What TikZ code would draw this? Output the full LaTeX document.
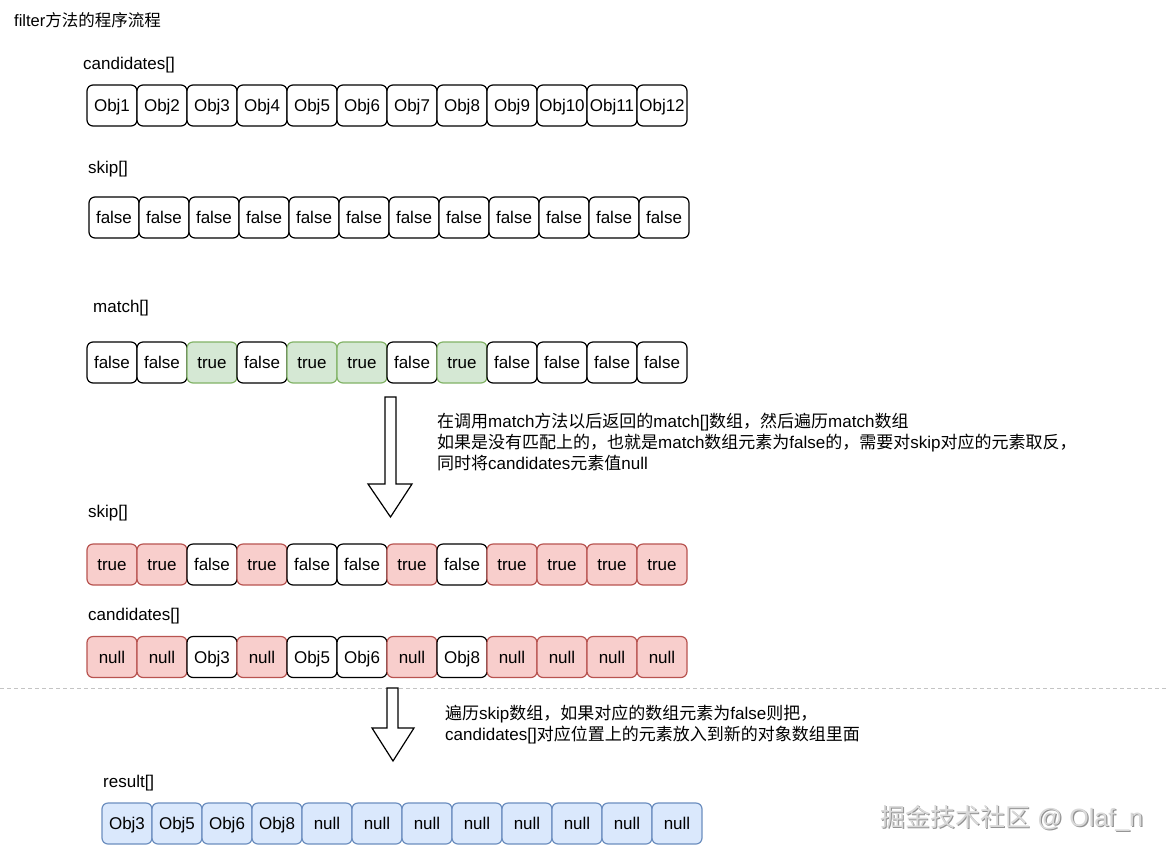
\documentclass[tikz,border=0pt]{standalone}
\usepackage{fontspec}
\setmainfont{Liberation Sans}
\newfontfamily\cjk{Noto Sans CJK SC}
\newcommand\zh[1]{{\cjk #1}}
\definecolor{gfill}{HTML}{D5E8D4}
\definecolor{gdraw}{HTML}{82B366}
\definecolor{rfill}{HTML}{F8CECC}
\definecolor{rdraw}{HTML}{B85450}
\definecolor{bfill}{HTML}{DAE8FC}
\definecolor{bdraw}{HTML}{6C8EBF}
\definecolor{sepgray}{HTML}{C4C4C4}
\tikzset{
  cellbase/.style={rounded corners=6, minimum width=50, minimum height=41, inner sep=0, text height=14, text depth=2, line width=1.2, font=\fontsize{17}{20}\selectfont},
  wcell/.style={cellbase, draw=black, fill=white},
  gcell/.style={cellbase, draw=gdraw, fill=gfill},
  rcell/.style={cellbase, draw=rdraw, fill=rfill},
  bcell/.style={cellbase, draw=bdraw, fill=bfill},
  lbl/.style={anchor=base west, inner sep=0, font=\fontsize{17}{20}\selectfont},
  note/.style={anchor=base west, inner sep=0, font=\fontsize{17}{20}\selectfont},
  blockarrow/.style={draw=black, fill=white, line width=1.2, line join=miter},
}
\begin{document}
\begin{tikzpicture}[x=1pt,y=-1pt]
\useasboundingbox[fill=white] (0,0) rectangle (1167,855);

% title
\node[anchor=base west, inner sep=0, font=\fontsize{16.5}{19}\selectfont] (title) at (14,26) {filter\zh{方法的程序流程}};

% row 1: candidates
\node[lbl] (l1) at (83,69) {candidates[]};
\foreach \t [count=\i] in {Obj1,Obj2,Obj3,Obj4,Obj5,Obj6,Obj7,Obj8,Obj9,Obj10,Obj11,Obj12}
  \node[wcell] (a\i) at ({87+50*(\i-1)+25},105.5) {\t};

% row 2: skip
\node[lbl] (l2) at (88,173) {skip[]};
\foreach \i in {1,...,12}
  \node[wcell] (b\i) at ({89+50*(\i-1)+25},217.5) {false};

% row 3: match
\node[lbl] (l3) at (93,312) {match[]};
\foreach \t/\s [count=\i] in {false/wcell,false/wcell,true/gcell,false/wcell,true/gcell,true/gcell,false/wcell,true/gcell,false/wcell,false/wcell,false/wcell,false/wcell}
  \node[\s] (c\i) at ({87+50*(\i-1)+25},362.5) {\t};

% arrow 1
\draw[blockarrow] (385,397) -- (396,397) -- (396,484) -- (412,484) -- (390.5,517) -- (368,484) -- (385,484) -- cycle;
\node[note] (n1) at (437,427) {\zh{在调用}match\zh{方法以后返回的}match[]\zh{数组，然后遍历}match\zh{数组}};
\node[note] (n2) at (437,448) {\zh{如果是没有匹配上的，也就是}match\zh{数组元素为}false\zh{的，需要对}skip\zh{对应的元素取反，}};
\node[note] (n3) at (437,469) {\zh{同时将}candidates\zh{元素值}null};

% row 4: skip
\node[lbl] (l4) at (88,517) {skip[]};
\foreach \t/\s [count=\i] in {true/rcell,true/rcell,false/wcell,true/rcell,false/wcell,false/wcell,true/rcell,false/wcell,true/rcell,true/rcell,true/rcell,true/rcell}
  \node[\s] (d\i) at ({87+50*(\i-1)+25},564.5) {\t};

% row 5: candidates
\node[lbl] (l5) at (88,620) {candidates[]};
\foreach \t/\s [count=\i] in {null/rcell,null/rcell,Obj3/wcell,null/rcell,Obj5/wcell,Obj6/wcell,null/rcell,Obj8/wcell,null/rcell,null/rcell,null/rcell,null/rcell}
  \node[\s] (e\i) at ({87+50*(\i-1)+25},657) {\t};

% separator
\coordinate (sepL) at (0,688.5);
\coordinate (sepR) at (1167,688.5);
\draw[sepgray, line width=1, dash pattern=on 4 off 3] (sepL) -- (sepR);

% arrow 2
\draw[blockarrow] (387,688) -- (398,688) -- (398,728) -- (414,728) -- (393,761) -- (372,728) -- (387,728) -- cycle;
\node[note] (m1) at (445,719) {\zh{遍历}skip\zh{数组，如果对应的数组元素为}false\zh{则把，}};
\node[note] (m2) at (445,740) {candidates[]\zh{对应位置上的元素放入到新的对象数组里面}};

% row 6: result
\node[lbl] (l6) at (103,787) {result[]};
\foreach \t [count=\i] in {Obj3,Obj5,Obj6,Obj8,null,null,null,null,null,null,null,null}
  \node[bcell] (f\i) at ({102+50*(\i-1)+25},823.5) {\t};

% watermark
\node[anchor=west, inner sep=0, font=\fontsize{25}{28}\selectfont, text=gray!85] (wms) at (881.2,819.2) {\zh{掘金技术社区} @ Olaf\_n};
\node[anchor=west, inner sep=0, font=\fontsize{25}{28}\selectfont, text=gray!30] (wm) at (880,818) {\zh{掘金技术社区} @ Olaf\_n};
\end{tikzpicture}
\end{document}
